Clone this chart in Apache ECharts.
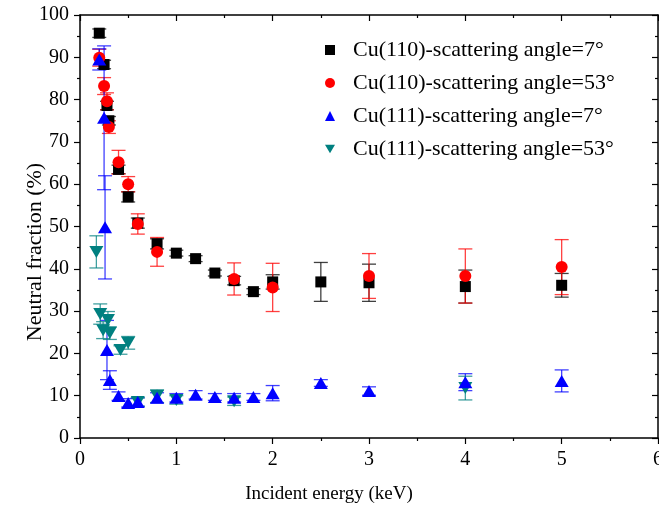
<!DOCTYPE html>
<html>
<head>
<meta charset="utf-8">
<script src="https://cdn.jsdelivr.net/npm/echarts@6/dist/echarts.min.js"></script>
<style>
  html, body { margin: 0; padding: 0; background: #fff; }
  #chart { width: 659px; height: 509px; }
</style>
</head>
<body>
<div id="chart"></div>
<script>
// Cu(110), scattering angle 7 deg
var cu110_7_x = [0.2, 0.25, 0.28, 0.3, 0.4, 0.5, 0.6, 0.8, 1.0, 1.2, 1.4, 1.6, 1.8, 2.0, 2.5, 3.0, 4.0, 5.0];
var cu110_7_y = [95.7, 88.3, 78.6, 75.0, 63.5, 57.0, 50.8, 45.9, 43.7, 42.4, 39.0, 37.2, 34.6, 36.9, 36.9, 36.7, 35.8, 36.1];
var cu110_7_err = [1, 1, 1, 1, 1, 1.2, 1.2, 1.2, 0.7, 0.7, 0.7, 1, 0.7, 1.7, 4.6, 4.4, 3.9, 2.8];

// Cu(110), scattering angle 53 deg
var cu110_53_x = [0.2, 0.25, 0.28, 0.3, 0.4, 0.5, 0.6, 0.8, 1.6, 2.0, 3.0, 4.0, 5.0];
var cu110_53_y = [89.9, 83.2, 79.6, 73.5, 65.2, 60.0, 50.6, 44.0, 37.6, 35.6, 38.3, 38.3, 40.4];
var cu110_53_err = [2, 2, 2, 1.5, 2.8, 1.8, 2.4, 3.4, 3.8, 5.7, 5.3, 6.4, 6.5];

// Cu(111), scattering angle 7 deg
var cu111_7_x = [0.2, 0.25, 0.26, 0.28, 0.31, 0.4, 0.5, 0.6, 0.8, 1.0, 1.2, 1.4, 1.6, 1.8, 2.0, 2.5, 3.0, 4.0, 5.0];
var cu111_7_y = [89.5, 75.7, 49.8, 20.8, 13.7, 9.9, 8.3, 8.5, 9.5, 9.5, 10.2, 9.7, 9.5, 9.7, 10.6, 13.0, 11.1, 13.2, 13.5];
var cu111_7_err = [2.5, 17, 12.2, 7, 2.2, 1, 1, 1, 1.2, 1, 1, 0.8, 1, 0.8, 1.8, 0.8, 1.0, 2.0, 2.6];

// Cu(111), scattering angle 53 deg
var cu111_53_x = [0.17, 0.21, 0.24, 0.29, 0.31, 0.42, 0.5, 0.6, 0.8, 1.0, 1.6, 4.0];
var cu111_53_y = [44.0, 29.3, 25.5, 27.9, 24.8, 20.8, 22.5, 8.5, 9.9, 9.0, 8.7, 11.8];
var cu111_53_err = [3.8, 2.4, 2, 2, 1.5, 1, 1.5, 1, 1.5, 1, 1, 2.8];

var names = [
    'Cu(110)-scattering angle=7°',
    'Cu(110)-scattering angle=53°',
    'Cu(111)-scattering angle=7°',
    'Cu(111)-scattering angle=53°'
];

var chart = echarts.init(document.getElementById('chart'));

function points(xs, ys) {
    return xs.map(function (x, i) { return [x, ys[i]]; });
}
function errors(xs, ys, es) {
    return xs.map(function (x, i) { return [x, ys[i] - es[i], ys[i] + es[i]]; });
}

function errorSeries(data, color) {
    return {
        type: 'custom',
        data: data,
        z: 1,
        silent: true,
        renderItem: function (params, api) {
            var x = api.value(0);
            var top = api.coord([x, api.value(2)]);
            var bot = api.coord([x, api.value(1)]);
            var hw = 7;
            var style = { stroke: color, lineWidth: 1.3, opacity: 0.75 };
            return {
                type: 'group',
                children: [
                    { type: 'line', shape: { x1: top[0], y1: top[1], x2: bot[0], y2: bot[1] }, style: style },
                    { type: 'line', shape: { x1: top[0] - hw, y1: top[1], x2: top[0] + hw, y2: top[1] }, style: style },
                    { type: 'line', shape: { x1: bot[0] - hw, y1: bot[1], x2: bot[0] + hw, y2: bot[1] }, style: style }
                ]
            };
        }
    };
}

var downTriangle = 'path://M0,0 L20,0 L10,17.32 Z';
var serif = '"Liberation Serif", "DejaVu Serif", serif';

var option = {
    animation: false,
    backgroundColor: '#fff',
    textStyle: { fontFamily: serif },
    grid: { left: 80, right: 1, top: 15, bottom: 71, outerBoundsMode: 'none', containLabel: false },
    graphic: [{
        type: 'text',
        x: 329, y: 494,
        style: {
            text: 'Incident energy (keV)', font: '19px ' + serif, fill: '#000',
            align: 'center', verticalAlign: 'middle'
        }
    }, {
        type: 'text',
        x: 35, y: 252,
        rotation: Math.PI / 2,
        style: {
            text: 'Neutral fraction (%)', font: '22px ' + serif, fill: '#000',
            align: 'center', verticalAlign: 'middle'
        }
    }],
    legend: {
        orient: 'vertical',
        left: 320,
        top: 34,
        itemGap: 11,
        itemWidth: 10,
        itemHeight: 10,
        data: names,
        textStyle: { fontFamily: serif, fontSize: 22, color: '#000', padding: [0, 0, 0, 13] }
    },
    xAxis: [{
        type: 'value',
        min: 0, max: 6, interval: 1,
        axisLine: { onZero: false, lineStyle: { color: '#000', width: 1.5 } },
        axisTick: { inside: false, length: 6, lineStyle: { color: '#000', width: 1.2 } },
        minorTick: { show: true, splitNumber: 2, length: 3, lineStyle: { color: '#000', width: 1.2 } },
        axisLabel: { fontFamily: serif, fontSize: 20, color: '#000', margin: 12 },
        splitLine: { show: false }
    }, {
        type: 'value',
        position: 'top',
        min: 0, max: 6, interval: 1,
        axisLine: { onZero: false, lineStyle: { color: '#000', width: 1.5 } },
        axisTick: { inside: true, length: 6, lineStyle: { color: '#000', width: 1.2 } },
        minorTick: { show: true, splitNumber: 2, length: 3, lineStyle: { color: '#000', width: 1.2 } },
        axisLabel: { show: false },
        splitLine: { show: false }
    }],
    yAxis: [{
        type: 'value',
        min: 0, max: 100, interval: 10,
        axisLine: { onZero: false, lineStyle: { color: '#000', width: 1.5 } },
        axisTick: { inside: false, length: 6, lineStyle: { color: '#000', width: 1.2 } },
        minorTick: { show: true, splitNumber: 2, length: 3, lineStyle: { color: '#000', width: 1.2 } },
        axisLabel: { fontFamily: serif, fontSize: 20, color: '#000', margin: 11 },
        splitLine: { show: false }
    }, {
        type: 'value',
        position: 'right',
        min: 0, max: 100, interval: 10,
        axisLine: { onZero: false, lineStyle: { color: '#000', width: 1.5 } },
        axisTick: { inside: true, length: 6, lineStyle: { color: '#000', width: 1.2 } },
        minorTick: { show: true, splitNumber: 2, length: 3, lineStyle: { color: '#000', width: 1.2 } },
        axisLabel: { show: false },
        splitLine: { show: false }
    }],
    series: [
        errorSeries(errors(cu110_7_x, cu110_7_y, cu110_7_err), '#000000'),
        errorSeries(errors(cu110_53_x, cu110_53_y, cu110_53_err), '#ff0000'),
        errorSeries(errors(cu111_7_x, cu111_7_y, cu111_7_err), '#0000ff'),
        errorSeries(errors(cu111_53_x, cu111_53_y, cu111_53_err), '#008080'),
        {
            name: names[0], type: 'scatter', z: 2,
            symbol: 'rect', symbolSize: 11,
            itemStyle: { color: '#000000', opacity: 1 },
            data: points(cu110_7_x, cu110_7_y)
        },
        {
            name: names[1], type: 'scatter', z: 3,
            symbol: 'circle', symbolSize: 12,
            itemStyle: { color: '#ff0000', opacity: 1 },
            data: points(cu110_53_x, cu110_53_y)
        },
        {
            name: names[3], type: 'scatter', z: 4,
            symbol: downTriangle, symbolSize: [14, 12],
            itemStyle: { color: '#008080', opacity: 1 },
            data: points(cu111_53_x, cu111_53_y)
        },
        {
            name: names[2], type: 'scatter', z: 5,
            symbol: 'triangle', symbolSize: [14, 12],
            itemStyle: { color: '#0000ff', opacity: 1 },
            data: points(cu111_7_x, cu111_7_y)
        }
    ]
};

chart.setOption(option);
</script>
</body>
</html>
